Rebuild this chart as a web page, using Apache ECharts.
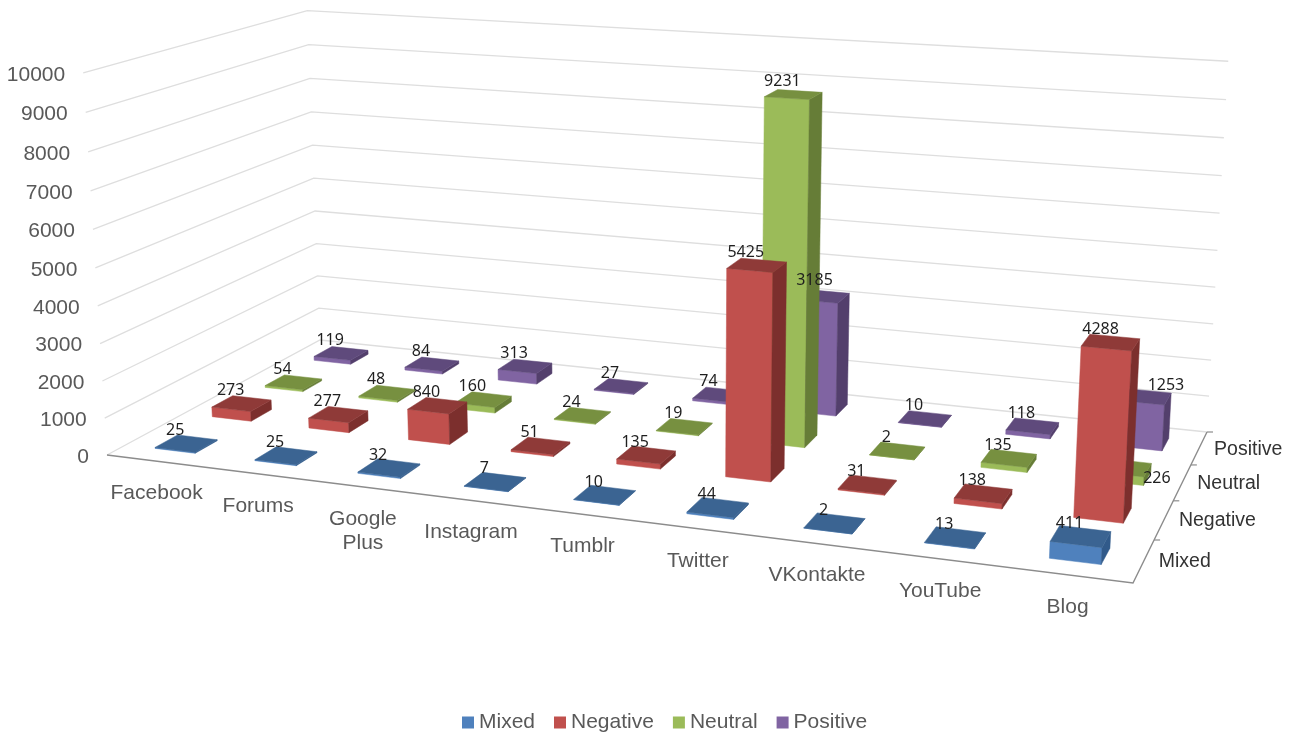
<!DOCTYPE html>
<html>
<head>
<meta charset="utf-8">
<title>Mentions by source and sentiment</title>
<script src="https://cdn.jsdelivr.net/npm/echarts@6/dist/echarts.min.js"></script>
<style>
  html, body { margin: 0; padding: 0; background: #fff; }
  #chart { width: 1294px; height: 733px; }
</style>
</head>
<body>
<div id="chart"></div>
<script>
// Chart data
const categories = ['Facebook', 'Forums', 'Google Plus', 'Instagram', 'Tumblr', 'Twitter', 'VKontakte', 'YouTube', 'Blog'];
const sentiments = ['Mixed', 'Negative', 'Neutral', 'Positive'];
const mixed = [25, 25, 32, 7, 10, 44, 2, 13, 411];
const negative = [273, 277, 840, 51, 135, 5425, 31, 138, 4288];
const neutral = [54, 48, 160, 24, 19, 9231, 2, 135, 226];
const positive = [119, 84, 313, 27, 74, 3185, 10, 118, 1253];
const valueTicks = [0, 1000, 2000, 3000, 4000, 5000, 6000, 7000, 8000, 9000, 10000];

// Face shades per sentiment: front, top, right side
const shades = {
  Mixed: ['#4f81bd', '#3b6492', '#315a8a'],
  Negative: ['#c0504d', '#8f3a38', '#7c2f2d'],
  Neutral: ['#9bbb59', '#779040', '#667d37'],
  Positive: ['#8064a2', '#5f4a7c', '#533f6c']
};

// Labels that sit beside their column so they stay readable
const labelNudge = { 'Neutral/Blog': [44, 24], 'Positive/Blog': [32, 2], 'Positive/Twitter': [3, -3], 'Negative/Blog': [1, 0] };

// Camera: where the corners of the 3D box land on the canvas
const floorFrontLeft = [107, 455], floorFrontRight = [1133, 583];
const floorBackRight = [1207, 432], floorBackLeft = [320, 340];
const topFrontLeft = [84, 74.5], topBackLeft = [306, 9.5], topBackRight = [1229, 61];

function buildProjection() {
  const [x0, y0] = floorFrontLeft, [x1, y1] = floorFrontRight, [x2, y2] = floorBackRight, [x3, y3] = floorBackLeft;
  const dx1 = x1 - x2, dx2 = x3 - x2, sx = x0 - x1 + x2 - x3;
  const dy1 = y1 - y2, dy2 = y3 - y2, sy = y0 - y1 + y2 - y3;
  const den = dx1 * dy2 - dx2 * dy1;
  const g = (sx * dy2 - dx2 * sy) / den, h = (dx1 * sy - sx * dy1) / den;
  const a = x1 - x0 + g * x1, b = x3 - x0 + h * x3, c = x0;
  const d = y1 - y0 + g * y1, e = y3 - y0 + h * y3, f = y0;

  // Height column of the projective matrix, fitted to the three top corners
  const tops = [[0, 0, topFrontLeft], [0, 1, topBackLeft], [1, 1, topBackRight]].map(([u, v, t]) => {
    const W = g * u + h * v + 1;
    return { t, rx: t[0] * W - (a * u + b * v + c), ry: t[1] * W - (d * u + e * v + f) };
  });
  const r = (tops[0].rx - tops[2].rx) / (tops[2].t[0] - tops[0].t[0]);
  const mean = (fn) => tops.reduce((s, o) => s + fn(o), 0) / tops.length;
  const p = mean((o) => o.rx + o.t[0] * r), q = mean((o) => o.ry + o.t[1] * r);

  return (u, v, w) => {
    const W = g * u + h * v + 1 + r * w;
    return [(a * u + b * v + c + p * w) / W, (d * u + e * v + f + q * w) / W];
  };
}
const project = buildProjection();

// Column footprint as a share of its floor cell
const widthShare = 0.405, depthShare = 0.385;
const rows = sentiments.length;

// Turn a point on the hidden axes into box fractions
function fractions(api, params, catIndex, value) {
  const rect = params.coordSys;
  const pt = api.coord([catIndex, value]);
  return { u: (pt[0] - rect.x) / rect.width, w: (rect.y + rect.height - pt[1]) / rect.height };
}

function columnRenderer(row, name) {
  return function (params, api) {
    const cat = api.value(0), val = api.value(1);
    const { u, w } = fractions(api, params, cat, val);
    const halfU = (api.size([1, 0])[0] / params.coordSys.width) * widthShare / 2;
    const vc = (row + 0.5) / rows, halfV = depthShare / rows / 2;
    const c = project;
    const u0 = u - halfU, u1 = u + halfU, v0 = vc - halfV, v1 = vc + halfV;
    const [front, top, side] = shades[name];
    const order = (rows - row) * 100 + cat;
    const face = (points, fill) => ({
      type: 'polygon', z2: order, silent: true,
      shape: { points }, style: { fill, stroke: fill, lineWidth: 0.5 }
    });
    const topCentre = project(u, vc, w);
    const nudge = labelNudge[name + '/' + categories[cat]] || [0, 0];
    return {
      type: 'group',
      children: [
        face([c(u0, v0, 0), c(u1, v0, 0), c(u1, v0, w), c(u0, v0, w)], front),
        face([c(u1, v0, 0), c(u1, v1, 0), c(u1, v1, w), c(u1, v0, w)], side),
        face([c(u0, v0, w), c(u1, v0, w), c(u1, v1, w), c(u0, v1, w)], top),
        {
          type: 'text', z2: 5000, silent: true,
          style: {
            text: String(val),
            x: topCentre[0] - 11 + nudge[0], y: topCentre[1] - 13 + nudge[1],
            fill: '#1f1f1f', font: '16px "Noto Sans"',
            textAlign: 'center', textVerticalAlign: 'middle'
          }
        }
      ]
    };
  };
}

// Gridlines on the left and back walls, with the value tick labels
function wallRenderer(params, api) {
  const tick = api.value(1);
  const { w } = fractions(api, params, 0, tick);
  const frontLeft = project(0, 0, w);
  return {
    type: 'group',
    children: [
      {
        type: 'polyline', z2: 1, silent: true,
        shape: { points: [frontLeft, project(0, 1, w), project(1, 1, w)] },
        style: { fill: null, stroke: '#dedede', lineWidth: 1.3 }
      },
      {
        type: 'text', z2: 1, silent: true,
        style: {
          text: String(tick), x: frontLeft[0] - 18, y: frontLeft[1] + 2,
          fill: '#595959', font: '21px "Liberation Sans"',
          textAlign: 'right', textVerticalAlign: 'middle'
        }
      }
    ]
  };
}

// Front floor edge and the source names beneath it
function categoryRenderer(params, api) {
  const cat = api.value(0);
  const { u } = fractions(api, params, cat, 0);
  const at = project(u, 0, 0);
  const children = [{
    type: 'text', z2: 1, silent: true,
    style: {
      text: categories[cat].replace(' ', '\n'), x: at[0], y: at[1] + 20,
      fill: '#595959', font: '21px "Liberation Sans"', lineHeight: 24,
      textAlign: 'center', textVerticalAlign: 'top'
    }
  }];
  if (cat === 0) {
    children.push({
      type: 'polyline', z2: 2, silent: true,
      shape: { points: [project(0, 0, 0), project(1, 0, 0), project(1, 1, 0)] },
      style: { fill: null, stroke: '#8c8c8c', lineWidth: 1.4 }
    });
  }
  return { type: 'group', children };
}

// Depth axis ticks and sentiment names along the right floor edge
function depthRenderer(params, api) {
  const row = api.value(0);
  const edge = project(1, (row + 0.5) / rows, 0);
  const tickAt = project(1, (row + 1) / rows, 0);
  return {
    type: 'group',
    children: [
      {
        type: 'line', z2: 2, silent: true,
        shape: { x1: tickAt[0], y1: tickAt[1], x2: tickAt[0] + 6, y2: tickAt[1] },
        style: { stroke: '#8c8c8c', lineWidth: 1.2 }
      },
      {
        type: 'text', z2: 1, silent: true,
        style: {
          text: sentiments[row], x: edge[0] + 15, y: edge[1] + 1,
          fill: '#333333', font: '19.5px "Liberation Sans"',
          textAlign: 'left', textVerticalAlign: 'middle'
        }
      }
    ]
  };
}

const columnValues = { Mixed: mixed, Negative: negative, Neutral: neutral, Positive: positive };

const option = {
  animation: false,
  backgroundColor: '#ffffff',
  grid: { left: 0, right: 0, top: 0, bottom: 0, containLabel: false },
  xAxis: { type: 'category', data: categories, show: false },
  yAxis: { type: 'value', min: 0, max: 10000, interval: 1000, show: false },
  legend: {
    data: sentiments,
    left: 462, top: 712, padding: 0,
    icon: 'rect', itemWidth: 12, itemHeight: 12, itemGap: 19,
    textStyle: { color: '#595959', fontSize: 21, fontFamily: 'Liberation Sans' },
    selectedMode: false
  },
  series: [
    { type: 'custom', renderItem: wallRenderer, data: valueTicks.map((t) => [0, t]), encode: { x: 0, y: 1 }, silent: true },
    { type: 'custom', renderItem: categoryRenderer, data: categories.map((_, i) => [i, 0]), encode: { x: 0, y: 1 }, silent: true },
    { type: 'custom', renderItem: depthRenderer, data: sentiments.map((_, i) => [i, 0]), encode: { x: 0, y: 1 }, silent: true },
    ...sentiments.map((name, row) => ({
      type: 'custom',
      name,
      renderItem: columnRenderer(row, name),
      data: columnValues[name].map((v, i) => [i, v]),
      encode: { x: 0, y: 1 },
      itemStyle: { color: shades[name][0] },
      silent: true
    }))
  ]
};

echarts.init(document.getElementById('chart'), null, { renderer: 'canvas' }).setOption(option);
</script>
</body>
</html>
